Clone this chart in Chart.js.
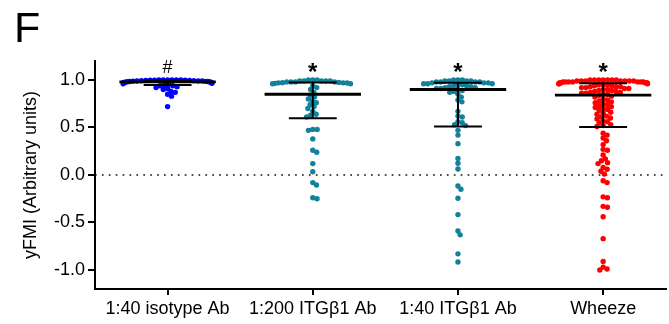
<!DOCTYPE html>
<html>
<head>
<meta charset="UTF-8">
<title>yFMI dot plot</title>
<script src="https://cdn.jsdelivr.net/npm/chart.js"></script>
<style>
  html,body{margin:0;padding:0;background:#fff;}
  canvas{display:block;}
</style>
</head>
<body>
<canvas id="c" width="669" height="324"></canvas>
<script>
/* ==== data ==== */
const categories = ['1:40 isotype Ab', '1:200 ITG\u03B21 Ab', '1:40 ITG\u03B21 Ab', 'Wheeze'];
const colors = ['#0000ff', '#13819a', '#13819a', '#ff0000'];
const marks = ['#', '*', '*', '*'];

const isotype = [
  0.72, 0.83, 0.85, 0.87, 0.88, 0.90, 0.91, 0.92, 0.93, 0.94, 0.94,
  0.95, 0.955, 0.96, 0.965, 0.97, 0.97, 0.975, 0.975, 0.975, 0.978, 0.978,
  0.98, 0.982, 0.984, 0.985, 0.986, 0.988, 0.99, 0.99, 0.99, 0.992, 0.993,
  0.995, 0.996, 0.997, 0.998, 0.999, 1.0, 1.0, 1.0, 1.0, 1.0, 1.0
];
const itg200 = [
  0.98, 0.98, 0.98, 0.99, 0.99, 0.99, 0.99, 1.0, 1.0, 1.0, 0.99, 0.98,
  0.975, 0.972, 0.97, 0.97, 0.968, 0.965, 0.96, 0.96, 0.94, 0.92, 0.90, 0.87,
  0.84, 0.82, 0.80, 0.78, 0.76, 0.74, 0.72, 0.70, 0.67, 0.64, 0.63, 0.61,
  0.48, 0.48, 0.47, 0.38, 0.26, 0.24, 0.12, 0.035, -0.08, -0.105, -0.24, -0.25
];
const itg40 = [
  0.97, 0.97, 0.98, 0.98, 0.98, 0.99, 0.99, 0.99, 0.99, 1.0, 1.0, 1.0, 0.98, 0.97,
  0.90, 0.91, 0.91, 0.92, 0.92, 0.93, 0.93, 0.94, 0.94, 0.95, 0.95, 0.96, 0.96, 0.96,
  0.56, 0.55, 0.53, 0.52, 0.61, 0.62, 0.67, 0.77, 0.79, 0.82, 0.85, 0.87, 0.88, 0.89,
  0.47, 0.42, 0.33, 0.175, 0.123, 0.063, -0.116, -0.15, -0.245, -0.417, -0.59, -0.63, -0.83, -0.916
];
const wheeze = [
  0.44, 0.42, 0.39, 0.36, 0.32, 0.27, 0.26, 0.21, 0.17, 0.15, 0.13, 0.12, 0.08, 0.06,
  0.04, 0.01, -0.06, -0.08, -0.23, -0.24, -0.33, -0.34, -0.44, -0.67, -0.91, -0.97, -0.99, -1.0,
  0.51, 0.52, 0.53, 0.55, 0.56, 0.57, 0.59, 0.60, 0.61, 0.62, 0.64, 0.65, 0.66, 0.68,
  0.69, 0.70, 0.71, 0.72, 0.73, 0.74, 0.75, 0.76, 0.77, 0.78, 0.79, 0.80, 0.82, 0.83,
  0.84, 0.85, 0.85, 0.86, 0.86, 0.87, 0.87, 0.88, 0.88, 0.89, 0.89, 0.90, 0.90, 0.91,
  0.91, 0.92, 0.92, 0.93, 0.93, 0.93, 0.94, 0.94, 0.95, 0.95, 0.95, 0.96, 0.96, 0.96,
  0.97, 0.97, 0.97, 0.97, 0.97, 0.97, 0.97, 0.98, 0.98, 0.98, 0.98, 0.98, 0.98, 0.98,
  0.99, 0.99, 0.99, 0.99, 0.99, 0.99, 0.99, 1.0, 1.0, 1.0, 1.0, 1.0, 1.0, 1.0
];
const groups = [isotype, itg200, itg40, wheeze];

// median + interquartile range
const medians = [0.98, 0.85, 0.90, 0.84];
const q1 = [0.947, 0.597, 0.51, 0.505];
const q3 = [0.995, 0.975, 0.97, 0.965];

const yTicks = [-1.0, -0.5, 0.0, 0.5, 1.0];

/* ==== layout helpers ==== */
const FONT = '"Liberation Sans", Arial, Helvetica, sans-serif';
const X_MIN = -0.5, X_MAX = 3.435;
const PX_X = (669 - 95) / (X_MAX - X_MIN);
const PX_Y = (324 - 61 - 35) / 2.4;
const DOT_R = 2.7;

// simple beeswarm: push each point sideways until it no longer overlaps,
// then squeeze the widest rows so they stay inside the column (like prism)
function swarm(values, d){
  const placed = [];
  const offs = new Array(values.length);
  const order = values.map((v,i)=>i).sort((a,b)=>values[b]-values[a]);
  for(const i of order){
    const y = values[i]*PX_Y;
    const near = placed.filter(p => Math.abs(p.y-y) < d);
    const cands = [0];
    near.forEach(p => {
      const dx = Math.sqrt(d*d - (p.y-y)**2);
      cands.push(p.x+dx, p.x-dx);
    });
    cands.sort((a,b)=>Math.abs(a)-Math.abs(b));
    const x = cands.find(c => near.every(p => (p.x-c)**2 + (p.y-y)**2 >= d*d - 0.01));
    placed.push({x, y});
    const ax = Math.abs(x);
    const sq = ax <= 28 ? ax : 28 + 17*Math.tanh((ax-28)/17);
    offs[i] = Math.sign(x) * sq / PX_X;
  }
  return offs;
}

const pointSets = groups.map((vals, gi) => {
  const offs = swarm(vals, 4.4);
  return {
    type:'scatter',
    data: vals.map((v,k)=>({x: gi + offs[k], y: v})),
    backgroundColor: colors[gi],
    borderWidth: 0,
    pointRadius: DOT_R,
    pointHoverRadius: DOT_R,
    order: 1
  };
});

const zeroLine = {
  type:'line',
  data:[{x:X_MIN, y:0}, {x:X_MAX, y:0}],
  borderColor:'#111',
  borderWidth:1.7,
  borderDash:[1.7, 5.2],
  pointRadius:0,
  order: 10
};

/* ==== median / IQR bars + significance marks ==== */
const statsPlugin = {
  id:'stats',
  afterDatasetsDraw(chart){
    const {ctx, scales:{x, y}} = chart;
    ctx.save();
    ctx.strokeStyle = '#000';
    ctx.fillStyle = '#000';
    categories.forEach((c, i) => {
      const cx = x.getPixelForValue(i);
      const medHalf = x.getPixelForValue(i + 0.332) - cx;
      const capHalf = x.getPixelForValue(i + 0.165) - cx;
      const yMed = y.getPixelForValue(medians[i]);
      const yLo = y.getPixelForValue(q1[i]);
      const yHi = y.getPixelForValue(q3[i]);
      ctx.lineWidth = 2;
      ctx.beginPath();
      ctx.moveTo(cx, yHi); ctx.lineTo(cx, yLo);
      ctx.moveTo(cx-capHalf, yHi); ctx.lineTo(cx+capHalf, yHi);
      ctx.moveTo(cx-capHalf, yLo); ctx.lineTo(cx+capHalf, yLo);
      ctx.stroke();
      ctx.lineWidth = 2.8;
      ctx.beginPath();
      ctx.moveTo(cx-medHalf, yMed); ctx.lineTo(cx+medHalf, yMed);
      ctx.stroke();

      ctx.textAlign = 'center';
      ctx.textBaseline = 'alphabetic';
      if(marks[i] === '#'){
        ctx.font = '18px ' + FONT;
        ctx.fillText('#', cx, y.getPixelForValue(1.074));
      } else {
        ctx.font = 'bold 24px ' + FONT;
        ctx.fillText('*', cx, y.getPixelForValue(1.0));
      }
    });
    ctx.restore();
  },
  afterDraw(chart){
    const ctx = chart.ctx;
    ctx.save();
    ctx.fillStyle = '#000';
    ctx.font = '43px ' + FONT;
    ctx.textAlign = 'left';
    ctx.textBaseline = 'alphabetic';
    ctx.fillText('F', 14, 42);
    ctx.restore();
  }
};

new Chart(document.getElementById('c'), {
  data:{ datasets:[zeroLine, ...pointSets] },
  options:{
    responsive:false,
    animation:false,
    devicePixelRatio:1,
    layout:{ padding:{ top:61, right:0, bottom:0, left:0 } },
    plugins:{ legend:{display:false}, tooltip:{enabled:false} },
    scales:{
      x:{
        type:'linear',
        min:X_MIN, max:X_MAX,
        afterBuildTicks: s => { s.ticks = categories.map((c,i)=>({value:i})); },
        afterFit: s => { s.height = 35; },
        border:{ color:'#000', width:2 },
        grid:{ drawOnChartArea:false, color:'#000', lineWidth:2, tickLength:6 },
        ticks:{
          color:'#000', font:{size:18, family:FONT}, padding:3,
          maxRotation:0, autoSkip:false,
          callback: v => categories[v]
        }
      },
      y:{
        type:'linear',
        min:-1.2, max:1.2,
        afterBuildTicks: s => { s.ticks = yTicks.map(v=>({value:v})); },
        afterFit: s => { s.width = 95; },
        border:{ color:'#000', width:2 },
        grid:{ drawOnChartArea:false, color:'#000', lineWidth:2, tickLength:7 },
        ticks:{
          color:'#000', font:{size:18, family:FONT}, padding:3,
          callback: v => v.toFixed(1)
        },
        title:{
          display:true, text:'yFMI (Arbitrary units)', color:'#000',
          font:{size:18, family:FONT}, padding:{top:20, bottom:0}
        }
      }
    }
  },
  plugins:[statsPlugin]
});
</script>
</body>
</html>
